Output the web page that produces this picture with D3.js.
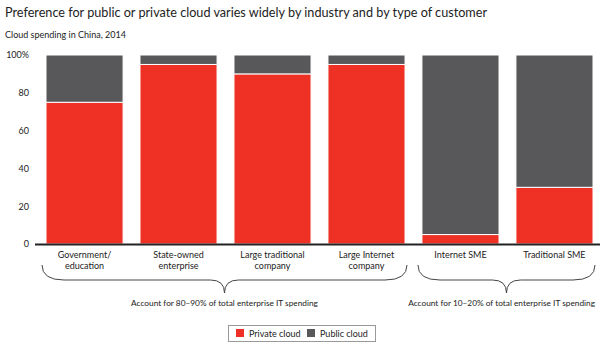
<!DOCTYPE html>
<html>
<head>
<meta charset="utf-8">
<script src="https://cdn.jsdelivr.net/npm/d3@7"></script>
<style>
  body { margin: 0; background: #fff; }
  svg { display: block; font-family: Lato, "Open Sans", sans-serif; }
</style>
</head>
<body>
<svg id="chart" width="600" height="345"></svg>
<script>
// Categories (two-line labels) and share of spending
var categories = ["Government/\neducation", "State-owned\nenterprise", "Large traditional\ncompany", "Large Internet\ncompany", "Internet SME", "Traditional SME"];
var privateCloud = [75, 95, 90, 95, 5, 30];
var publicCloud = [25, 5, 10, 5, 95, 70];
var yTicks = [0, 20, 40, 60, 80, 100];
var groups = [
  { first: 0, last: 3, text: "Account for 80\u201390% of total enterprise IT spending" },
  { first: 4, last: 5, text: "Account for 10\u201320% of total enterprise IT spending" }
];
var seriesNames = ["Private cloud", "Public cloud"];
var colors = ["#ee3124", "#58585a"];

var svg = d3.select("#chart");

// titles
svg.append("text")
  .attr("x", 5).attr("y", 17)
  .attr("font-size", 13.5).attr("fill", "#222")
  .attr("textLength", 482).attr("lengthAdjust", "spacingAndGlyphs")
  .text("Preference for public or private cloud varies widely by industry and by type of customer");

svg.append("text")
  .attr("x", 5).attr("y", 38)
  .attr("font-size", 9).attr("fill", "#222")
  .text("Cloud spending in China, 2014");

// scales
var x = d3.scaleBand()
  .domain(d3.range(categories.length))
  .range([46, 593])
  .paddingInner(0.18)
  .paddingOuter(0);

var y = d3.scaleLinear()
  .domain([0, 100])
  .range([244, 55]);

// y axis labels only, no line
var yAxis = svg.append("g")
  .attr("transform", "translate(29,0)")
  .call(d3.axisLeft(y).tickValues(yTicks).tickSize(0).tickPadding(0)
    .tickFormat(function(d) { return d === 100 ? "100%" : d; }));
yAxis.select(".domain").remove();
yAxis.selectAll("text")
  .attr("font-family", "Lato, sans-serif")
  .attr("font-size", 9)
  .attr("fill", "#222");

// stacked bars
var stackData = categories.map(function(c, i) {
  return { i: i, priv: privateCloud[i], pub: publicCloud[i] };
});
var stack = d3.stack().keys(["priv", "pub"]);
var layers = stack(stackData);

svg.selectAll("g.layer")
  .data(layers)
  .enter().append("g")
  .attr("class", "layer")
  .attr("fill", function(d, k) { return colors[k]; })
  .selectAll("rect")
  .data(function(d) { return d; })
  .enter().append("rect")
  .attr("x", function(d) { return x(d.data.i); })
  .attr("width", x.bandwidth())
  .attr("y", function(d) { return y(d[1]); })
  .attr("height", function(d) { return y(d[0]) - y(d[1]); })
  .attr("stroke", "#fff")
  .attr("stroke-width", 1);

// baseline
svg.append("line")
  .attr("x1", 35).attr("x2", 600)
  .attr("y1", y(0) + 0.5).attr("y2", y(0) + 0.5)
  .attr("stroke", "#222").attr("stroke-width", 2);

// category labels
svg.selectAll("text.cat")
  .data(categories)
  .enter().append("text")
  .attr("class", "cat")
  .attr("text-anchor", "middle")
  .attr("font-size", 9)
  .attr("fill", "#222")
  .attr("transform", function(d, i) { return "translate(" + (x(i) + x.bandwidth() / 2) + ",258)"; })
  .selectAll("tspan")
  .data(function(d) { return d.split("\n"); })
  .enter().append("tspan")
  .attr("x", 0)
  .attr("dy", function(d, j) { return j ? 10.5 : 0; })
  .text(function(d) { return d; });

// curly braces under grouped categories
function bracePath(x0, x1, top, mid, tip) {
  var cx = (x0 + x1) / 2;
  return "M" + x0 + "," + top +
    "Q" + x0 + "," + mid + " " + (x0 + 22) + "," + mid +
    "L" + (cx - 14) + "," + mid +
    "Q" + cx + "," + mid + " " + cx + "," + tip +
    "Q" + cx + "," + mid + " " + (cx + 14) + "," + mid +
    "L" + (x1 - 22) + "," + mid +
    "Q" + x1 + "," + mid + " " + x1 + "," + top;
}

groups.forEach(function(g) {
  var x0 = x(g.first) - 4;
  var x1 = x(g.last) + x.bandwidth() + 2;
  svg.append("path")
    .attr("d", bracePath(x0, x1, 265, 280, 293))
    .attr("fill", "none")
    .attr("stroke", "#444")
    .attr("stroke-width", 1);
  var label = svg.append("text")
    .attr("x", (x0 + x1) / 2).attr("y", 306)
    .attr("text-anchor", "middle")
    .attr("font-size", 8.3).attr("fill", "#222")
    .text(g.text);
  // keep the note inside the right edge
  var w = label.node().getComputedTextLength();
  label.attr("x", Math.min((x0 + x1) / 2, 595 - w / 2));
});

// legend
var legend = svg.append("g").attr("transform", "translate(228,325)");
legend.append("rect")
  .attr("x", 0.5).attr("y", 0.5)
  .attr("width", 147).attr("height", 16)
  .attr("fill", "#fff").attr("stroke", "#999");
var legendX = [8, 79];
seriesNames.forEach(function(name, k) {
  legend.append("rect")
    .attr("x", legendX[k]).attr("y", 4)
    .attr("width", 8).attr("height", 8)
    .attr("fill", colors[k]);
  legend.append("text")
    .attr("x", legendX[k] + 13).attr("y", 11.5)
    .attr("font-size", 9).attr("fill", "#222")
    .text(name);
});
</script>
</body>
</html>
